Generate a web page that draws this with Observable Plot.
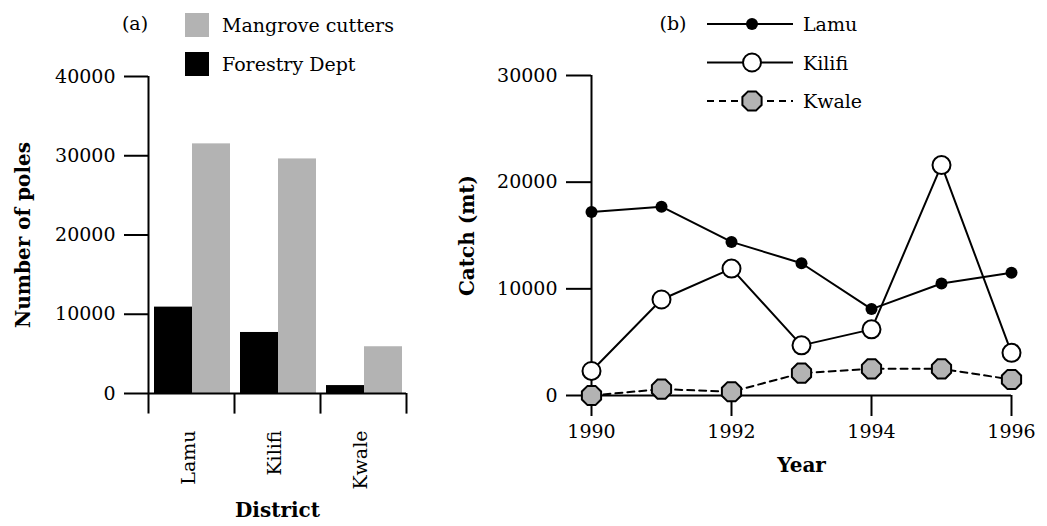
<!DOCTYPE html>
<html><head><meta charset="utf-8">
<script src="https://cdn.jsdelivr.net/npm/d3@7"></script>
<script src="https://cdn.jsdelivr.net/npm/@observablehq/plot@0.6"></script>
<style>
body{margin:0;background:#fff;}
#wrap{position:relative;width:1047px;height:526px;font-family:"DejaVu Serif",serif;color:#000;}
#wrap > .panel{position:absolute;top:0;}
.leg{position:absolute;left:0;top:0;font-family:"DejaVu Serif",serif;font-size:19px;}
.leg text{font-family:"DejaVu Serif",serif;}
</style>
</head><body>
<div id="wrap"></div>
<script>
// ---- data ----
const districts = ["Lamu", "Kilifi", "Kwale"];
const forestryDept = [10900, 7700, 1000];
const mangroveCutters = [31500, 29600, 5900];
const poleTicks = [0, 10000, 20000, 30000, 40000];

const years = [1990, 1991, 1992, 1993, 1994, 1995, 1996];
const lamuCatch = [17200, 17700, 14400, 12400, 8100, 10500, 11500];
const kilifiCatch = [2300, 9000, 11900, 4700, 6200, 21600, 4000];
const kwaleCatch = [0, 600, 350, 2100, 2500, 2500, 1500];
const catchTicks = [0, 10000, 20000, 30000];
const yearTicks = [1990, 1992, 1994, 1996];

const barLegend = ["Mangrove cutters", "Forestry Dept"];
const lineLegend = ["Lamu", "Kilifi", "Kwale"];

// ---- shared ----
const FONT = "DejaVu Serif";
const FS = 19;
const H = 526;
const GREY = "#b3b3b3";
const style = {fontFamily: FONT, fontSize: FS + "px", color: "#000", background: "transparent", overflow: "visible"};

const octagon = {
  draw(ctx, size) {
    const r = Math.sqrt(size / Math.PI) * 1.04;
    for (let k = 0; k < 8; ++k) {
      const a = Math.PI / 8 + k * Math.PI / 4;
      const x = r * Math.cos(a), y = r * Math.sin(a);
      k ? ctx.lineTo(x, y) : ctx.moveTo(x, y);
    }
    ctx.closePath();
  }
};

const wrap = document.getElementById("wrap");

// ---- panel (a) ----
const bars = districts.flatMap((d, i) => [
  {district: d, source: "Forestry Dept", value: forestryDept[i]},
  {district: d, source: "Mangrove cutters", value: mangroveCutters[i]}
]);
const W1 = 420, mL1 = 148, mR1 = 14, mT1 = 76, mB1 = 133;
const half = (W1 - mL1 - mR1) / districts.length / 2;
const below1 = -2600;

const left = Plot.plot({
  width: W1, height: H,
  marginLeft: mL1, marginRight: mR1, marginTop: mT1, marginBottom: mB1,
  style,
  x: {type: "band", domain: districts, padding: 0},
  y: {domain: [0, 40000]},
  marks: [
    Plot.barY(bars.filter(d => d.source === "Forestry Dept"), {x: "district", y: "value", fill: "#000", insetLeft: 6, insetRight: 42}),
    Plot.barY(bars.filter(d => d.source === "Mangrove cutters"), {x: "district", y: "value", fill: GREY, insetLeft: 44, insetRight: 4}),
    Plot.ruleY([0], {stroke: "#000", strokeWidth: 2}),
    Plot.ruleX(districts.slice(0, 1), {x: d => d, dx: -half, y1: 40000, y2: below1, stroke: "#000", strokeWidth: 2}),
    Plot.ruleX(districts.slice(1), {x: d => d, dx: -half, y1: 0, y2: below1, stroke: "#000", strokeWidth: 2}),
    Plot.ruleX(districts.slice(-1), {x: d => d, dx: half, y1: 0, y2: below1, stroke: "#000", strokeWidth: 2}),
    Plot.axisY({ticks: poleTicks, tickSize: 24, tickPadding: 9, tickFormat: d => String(d), strokeWidth: 2, label: null, fontSize: FS}),
    Plot.axisX({tickSize: 0, tickRotate: -90, tickPadding: 37, label: null, fontSize: FS, dx: -3}),
    Plot.text(["District"], {text: d => d, frameAnchor: "bottom", dy: 123, fontWeight: "bold", fontSize: 20}),
    Plot.text(["Number of poles"], {text: d => d, frameAnchor: "left", textAnchor: "middle", dx: -125, rotate: -90, fontWeight: "bold", fontSize: 20})
  ]
});
left.classList.add("panel");
left.style.left = "0px";
wrap.appendChild(left);

// ---- panel (b) ----
const rowsOf = vals => years.map((y, i) => ({year: y, value: vals[i]}));
const lamuRows = rowsOf(lamuCatch), kilifiRows = rowsOf(kilifiCatch), kwaleRows = rowsOf(kwaleCatch);
const W2 = 627, mL2 = 171, mR2 = 36, mT2 = 75, mB2 = 131;

const right = Plot.plot({
  width: W2, height: H,
  marginLeft: mL2, marginRight: mR2, marginTop: mT2, marginBottom: mB2,
  style,
  x: {domain: [1990, 1996]},
  y: {domain: [0, 30000]},
  marks: [
    Plot.ruleX([1990], {y1: 0, y2: 30000, stroke: "#000", strokeWidth: 2}),
    Plot.ruleY([0], {stroke: "#000", strokeWidth: 2}),
    Plot.axisY({ticks: catchTicks, tickSize: 25, tickPadding: 9, tickFormat: d => String(d), strokeWidth: 2, label: null, fontSize: FS}),
    Plot.axisX({ticks: yearTicks, tickSize: 21, tickPadding: 8, tickFormat: d => String(d), strokeWidth: 2, label: null, fontSize: FS}),
    Plot.line(lamuRows, {x: "year", y: "value", stroke: "#000", strokeWidth: 2}),
    Plot.line(kilifiRows, {x: "year", y: "value", stroke: "#000", strokeWidth: 2}),
    Plot.line(kwaleRows, {x: "year", y: "value", stroke: "#000", strokeWidth: 2, strokeDasharray: "7,5"}),
    Plot.dot(lamuRows, {x: "year", y: "value", r: 6, fill: "#000"}),
    Plot.dot(kilifiRows, {x: "year", y: "value", r: 9, fill: "#fff", stroke: "#000", strokeWidth: 2}),
    Plot.dot(kwaleRows, {x: "year", y: "value", r: 10, symbol: octagon, fill: GREY, stroke: "#000", strokeWidth: 2}),
    Plot.text(["Year"], {text: d => d, frameAnchor: "bottom", dy: 76, fontWeight: "bold", fontSize: 20}),
    Plot.text(["Catch (mt)"], {text: d => d, frameAnchor: "left", textAnchor: "middle", dx: -124, rotate: -90, fontWeight: "bold", fontSize: 20})
  ]
});
right.classList.add("panel");
right.style.left = "420px";
wrap.appendChild(right);

// ---- legends (overlay) ----
const NS = "http://www.w3.org/2000/svg";
const leg = document.createElementNS(NS, "svg");
leg.setAttribute("class", "leg");
leg.setAttribute("width", 1047);
leg.setAttribute("height", 130);
leg.style.fontFamily = "'DejaVu Serif', serif";
leg.style.fontSize = FS + "px";
const add = (tag, attrs, text) => {
  const el = document.createElementNS(NS, tag);
  for (const k in attrs) el.setAttribute(k, attrs[k]);
  if (text) el.textContent = text;
  leg.appendChild(el);
  return el;
};
// (a)
add("text", {x: 135, y: 23, "text-anchor": "middle", "dominant-baseline": "central"}, "(a)");
barLegend.forEach((name, i) => {
  const cy = 25 + i * 39;
  add("rect", {x: 185, y: cy - 12, width: 24, height: 24, fill: i === 0 ? GREY : "#000"});
  add("text", {x: 222, y: cy, "dominant-baseline": "central"}, name);
});
// (b)
add("text", {x: 673, y: 23, "text-anchor": "middle", "dominant-baseline": "central"}, "(b)");
lineLegend.forEach((name, i) => {
  const cy = 24 + i * 38.5;
  add("line", {x1: 707, x2: 793, y1: cy, y2: cy, stroke: "#000", "stroke-width": 2, "stroke-dasharray": i === 2 ? "7,5" : "none"});
  if (i === 0) add("circle", {cx: 752, cy, r: 6, fill: "#000"});
  if (i === 1) add("circle", {cx: 752, cy, r: 9, fill: "#fff", stroke: "#000", "stroke-width": 2});
  if (i === 2) {
    const p = d3.path();
    octagon.draw(p, Math.PI * 100);
    add("path", {d: p.toString(), transform: `translate(752,${cy})`, fill: GREY, stroke: "#000", "stroke-width": 2});
  }
  add("text", {x: 803, y: cy, "dominant-baseline": "central"}, name);
});
wrap.appendChild(leg);
</script>
</body></html>
